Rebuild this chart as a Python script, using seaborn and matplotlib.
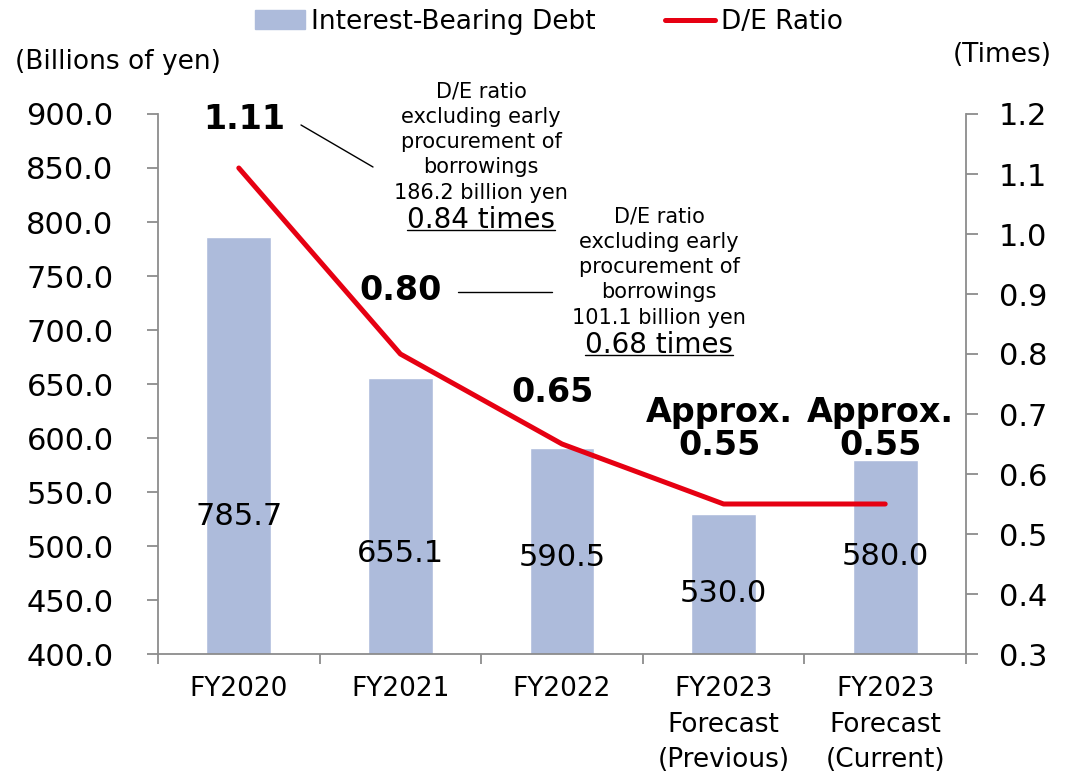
import numpy as np
import pandas as pd
import matplotlib.pyplot as plt
import seaborn as sns
from matplotlib.lines import Line2D
from matplotlib.patches import Patch
from matplotlib.ticker import FormatStrFormatter

periods = ["FY2020", "FY2021", "FY2022", "FY2023\nForecast\n(Previous)", "FY2023\nForecast\n(Current)"]
debt = [785.7, 655.1, 590.5, 530.0, 580.0]
de_ratio = [1.11, 0.80, 0.65, 0.55, 0.55]
de_labels = ["1.11", "0.80", "0.65", "Approx.\n0.55", "Approx.\n0.55"]

note_2020 = "D/E ratio\nexcluding early\nprocurement of\nborrowings\n186.2 billion yen"
note_2020_value = "0.84 times"
note_2021 = "D/E ratio\nexcluding early\nprocurement of\nborrowings\n101.1 billion yen"
note_2021_value = "0.68 times"

BAR_COLOR = "#adbbdb"
LINE_COLOR = "#e60012"
AXIS_GRAY = "#8c8c8c"
W, H = 1066, 771


def fx(x):
    return x / W


def fy(y):
    return 1 - y / H


def main():
    sns.set_theme(style="white")
    plt.rcParams["font.family"] = ["DejaVu Sans"]
    plt.rcParams["text.color"] = "black"
    plt.rcParams["xtick.color"] = "black"
    plt.rcParams["ytick.color"] = "black"
    plt.rcParams["axes.labelcolor"] = "black"

    fig = plt.figure(figsize=(W / 100, H / 100), dpi=100)
    ax = fig.add_axes([fx(158), fy(654), fx(966) - fx(158), fy(114) - fy(654)])

    df = pd.DataFrame({"period": periods, "debt": debt})
    sns.barplot(data=df, x="period", y="debt", color=BAR_COLOR, saturation=1,
                width=0.4, ax=ax)
    ax.set_ylim(400, 900)
    ax.set_yticks(np.arange(400, 901, 50))
    ax.yaxis.set_major_formatter(FormatStrFormatter("%.1f"))
    ax.set_xlabel("")
    ax.set_ylabel("")

    # bar value labels (Excel puts them a bit below the middle)
    label_y = [527, 493, 489, 456, 490]
    for i, v in enumerate(debt):
        ax.text(i, label_y[i], f"{v:.1f}", ha="center", va="center", fontsize=22,
                color="black")

    ax2 = ax.twinx()
    sns.lineplot(x=np.arange(len(de_ratio)), y=de_ratio, color=LINE_COLOR,
                 linewidth=3.6, solid_capstyle="round", ax=ax2)
    ax2.set_xlim(-0.5, len(periods) - 0.5)
    ax.set_xlim(-0.5, len(periods) - 0.5)
    ax2.set_ylim(0.3, 1.2)
    ax2.set_yticks(np.arange(0.3, 1.21, 0.1))
    ax2.yaxis.set_major_formatter(FormatStrFormatter("%.1f"))
    ax2.set_ylabel("")

    ax.spines["top"].set_visible(False)
    ax2.spines["top"].set_visible(False)
    ax.spines["right"].set_visible(False)
    ax2.spines["left"].set_visible(False)
    ax2.spines["bottom"].set_visible(False)
    for sp in [ax.spines["left"], ax.spines["bottom"], ax2.spines["right"]]:
        sp.set_color(AXIS_GRAY)
        sp.set_linewidth(1.3)

    ax.tick_params(axis="y", direction="out", length=8, width=1.3, color=AXIS_GRAY,
                   labelcolor="black", labelsize=22, pad=24, left=True)
    ax2.tick_params(axis="y", direction="out", length=8.5, width=1.3, color=AXIS_GRAY,
                    labelcolor="black", labelsize=22, pad=15, right=True)

    # category ticks sit between bars
    ax.set_xticks(np.arange(-0.5, len(periods), 1.0), minor=True)
    ax.tick_params(axis="x", which="minor", direction="out", length=7, width=1.3,
                   color=AXIS_GRAY, bottom=True)
    ax.tick_params(axis="x", which="major", length=0, labelsize=19, pad=16,
                   labelcolor="black")
    for t in ax.get_xticklabels():
        t.set_linespacing(1.47)

    offsets = [(4, 35), (0, 46), (-6.5, 37), (-3, 54), (-3.6, 54)]
    for i, lab in enumerate(de_labels):
        ax2.annotate(lab, xy=(i, de_ratio[i]), xytext=offsets[i], textcoords="offset points",
                     ha="center", va="center", fontsize=24, fontweight="bold",
                     linespacing=1.0, color="black")

    fig.text(fx(481), fy(142), note_2020, ha="center", va="center", fontsize=15,
             linespacing=1.33)
    t1 = fig.text(fx(481), fy(220), note_2020_value, ha="center", va="center", fontsize=20)
    fig.text(fx(659), fy(267), note_2021, ha="center", va="center", fontsize=15,
             linespacing=1.33)
    t2 = fig.text(fx(659), fy(345), note_2021_value, ha="center", va="center", fontsize=20)

    fig.add_artist(Line2D([fx(301), fx(373)], [fy(125), fy(167)], color="black", lw=1.0,
                          transform=fig.transFigure))
    fig.add_artist(Line2D([fx(458), fx(552)], [fy(292), fy(292)], color="black", lw=1.0,
                          transform=fig.transFigure))

    fig.text(fx(15), fy(62), "(Billions of yen)", ha="left", va="center", fontsize=19)
    fig.text(fx(1052), fy(55), "(Times)", ha="right", va="center", fontsize=19)

    handles = [Patch(color=BAR_COLOR), Line2D([], [], color=LINE_COLOR, lw=3.6)]
    fig.legend(handles, ["Interest-Bearing Debt", "D/E Ratio"], loc="center",
               bbox_to_anchor=(fx(549), fy(22)), ncol=2, frameon=False, fontsize=19,
               handlelength=1.9, handletextpad=0.25, columnspacing=2.6, handleheight=0.75)

    # underline the two "times" values
    fig.canvas.draw()
    renderer = fig.canvas.get_renderer()
    inv = fig.transFigure.inverted()
    for t in [t1, t2]:
        bb = t.get_window_extent(renderer)
        y = bb.y0 + 0.14 * bb.height
        (x0, y0), (x1, _) = inv.transform([(bb.x0, y), (bb.x1, y)])
        fig.add_artist(Line2D([x0, x1], [y0, y0], color="black", lw=1.0,
                              transform=fig.transFigure))

    fig.savefig("out.png", dpi=100)
    plt.close(fig)


if __name__ == "__main__":
    main()
